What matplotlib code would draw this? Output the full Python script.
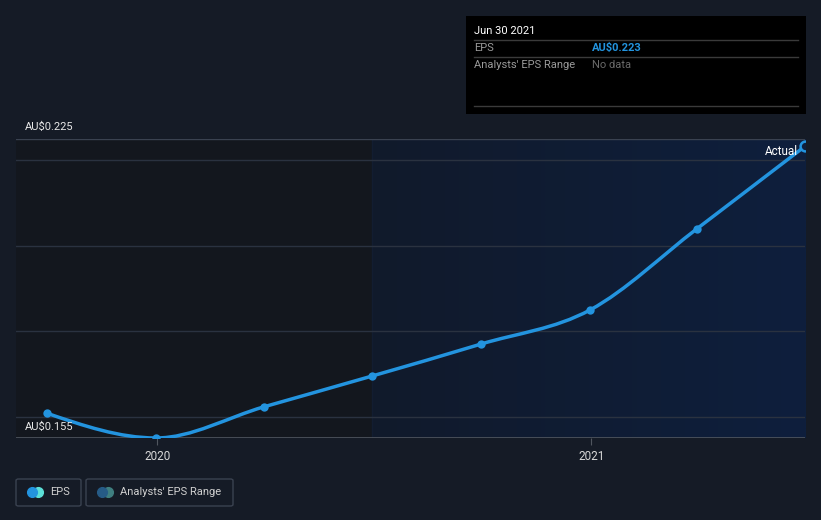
import numpy as np
import pandas as pd
import matplotlib
matplotlib.use("Agg")
import matplotlib.pyplot as plt
import matplotlib.dates as mdates
from matplotlib.path import Path
from matplotlib.patches import PathPatch, Rectangle, FancyBboxPatch
from matplotlib.colors import LinearSegmentedColormap

plt.rcParams['font.family'] = ['Roboto', 'DejaVu Sans']

# data
dates = pd.to_datetime(['2019-09-30', '2019-12-31', '2020-03-31', '2020-06-30',
                        '2020-09-30', '2020-12-31', '2021-03-31', '2021-06-30'])
eps = [0.1608, 0.1550, 0.1623, 0.1695, 0.1770, 0.1850, 0.2040, 0.2233]
y_min, y_max = 0.155, 0.225
grid_vals = [0.16, 0.18, 0.20, 0.22]
x_start, x_end = pd.Timestamp('2019-09-04'), pd.Timestamp('2021-06-30')
split_date = pd.Timestamp('2020-06-30')
year_ticks = pd.to_datetime(['2020-01-01', '2021-01-01'])
year_labels = ['2020', '2021']

BG = '#151b26'
LINE = '#2394df'


def monotone_path(x, y):
    # monotone cubic (like d3 curveMonotoneX) as bezier segments
    x = np.asarray(x, float)
    y = np.asarray(y, float)
    n = len(x)
    h = np.diff(x)
    s = np.diff(y) / h
    m = np.zeros(n)
    for i in range(1, n - 1):
        if s[i - 1] * s[i] <= 0:
            m[i] = 0
        else:
            p = (s[i - 1] * h[i] + s[i] * h[i - 1]) / (h[i - 1] + h[i])
            m[i] = np.sign(s[i - 1]) * min(abs(s[i - 1]), abs(s[i]), 0.5 * abs(p)) * 2
    m[0] = (3 * s[0] - m[1]) / 2 if n > 2 else s[0]
    m[-1] = (3 * s[-1] - m[-2]) / 2 if n > 2 else s[-1]
    verts = [(x[0], y[0])]
    codes = [Path.MOVETO]
    for i in range(n - 1):
        d = h[i] / 3
        verts += [(x[i] + d, y[i] + m[i] * d), (x[i + 1] - d, y[i + 1] - m[i + 1] * d), (x[i + 1], y[i + 1])]
        codes += [Path.CURVE4] * 3
    return Path(verts, codes)


fig = plt.figure(figsize=(8.21, 5.20), dpi=100, facecolor=BG)
ax = fig.add_axes([16 / 821, 82 / 520, 789 / 821, 299 / 520])
ax.set_facecolor('#13171e')
ax.set_xlim(x_start, x_end)
ax.set_ylim(y_min, y_max)

xn = mdates.date2num(dates)
x0, x1 = mdates.date2num(x_start), mdates.date2num(x_end)
xs = mdates.date2num(split_date)

# shaded past / recent regions
ax.axvspan(x0, xs, color='#13171e', zorder=0)
cmap = LinearSegmentedColormap.from_list('g', ['#111a2b', '#0e1f3d'])
ax.imshow(np.linspace(0, 1, 512).reshape(1, -1), cmap=cmap, aspect='auto',
          extent=[xs, x1, y_min, y_max], zorder=0.5, interpolation='bilinear')
ax.axvline(xs, color='#121d31', lw=1, zorder=0.6)

for g in grid_vals:
    ax.axhline(g, color='#2a3240', lw=1, zorder=1)
ax.axhline(y_max, color='#3a4250', lw=1, zorder=1)
ax.axhline(y_min, color='#50565f', lw=1.2, zorder=1)

patch = PathPatch(monotone_path(xn, eps), facecolor='none', edgecolor=LINE, lw=2.5,
                  zorder=3, capstyle='round')
ax.add_patch(patch)
ax.scatter(xn[:-1], eps[:-1], s=36, color=LINE, zorder=4, linewidths=0)
ax.scatter(xn[-1:], eps[-1:], s=50, facecolor='#0e1f3d', edgecolor=LINE, lw=1.8, zorder=4)

for sp in ax.spines.values():
    sp.set_visible(False)
ax.set_yticks([])
ax.set_xticks(year_ticks)
ax.set_xticklabels(year_labels, color='#d8d8d8', fontsize=8.5)
ax.tick_params(axis='x', length=5, color='#50565f', pad=4)

ax.text(9 / 789, 1.0 + 12 / 299, 'AU$0.225', transform=ax.transAxes,
        color='#e8e8e8', fontsize=8, va='center', ha='left')
ax.text(9 / 789, 11 / 299, 'AU$0.155', transform=ax.transAxes,
        color='#e8e8e8', fontsize=8, va='center', ha='left')
ax.text(x1 - 6, eps[-1] - 0.0013, 'Actual', color='#ffffff', fontsize=8.5, ha='right', va='center')

# tooltip box
W, H = 821, 520
def fx(px):
    return px / W
def fy(py):
    return 1 - py / H

fig.patches.append(Rectangle((fx(466), fy(114)), fx(806) - fx(466), fy(16) - fy(114),
                             transform=fig.transFigure, facecolor='#000000', edgecolor='none'))
for ly in [40, 57, 106]:
    fig.add_artist(plt.Line2D([fx(474), fx(798)], [fy(ly), fy(ly)], color='#3a3a3a', lw=1))
fig.text(fx(474), fy(31), 'Jun 30 2021', color='#ffffff', fontsize=8, va='center')
fig.text(fx(474), fy(48), 'EPS', color='#9a9a9a', fontsize=8, va='center')
fig.text(fx(592), fy(48), 'AU$0.223', color=LINE, fontsize=8, va='center', fontweight='bold')
fig.text(fx(474), fy(65), "Analysts' EPS Range", color='#9a9a9a', fontsize=8, va='center')
fig.text(fx(592), fy(65), 'No data', color='#6a6a6a', fontsize=8, va='center')

# legend
for (lx, lw_) in [(16, 65), (86, 147)]:
    fig.patches.append(FancyBboxPatch((fx(lx), fy(506)), fx(lw_), fy(479) - fy(506),
                                      boxstyle='round,pad=0,rounding_size=0.003',
                                      transform=fig.transFigure, facecolor='none',
                                      edgecolor='#3a4250', lw=1))
fig.add_artist(plt.Line2D([fx(38)], [fy(492)], marker='o', ms=7, color='#5ce0d8', lw=0))
fig.add_artist(plt.Line2D([fx(32)], [fy(492)], marker='o', ms=7, color='#2394df', lw=0))
fig.text(fx(50), fy(492), 'EPS', color='#d0d0d0', fontsize=8, va='center')
fig.add_artist(plt.Line2D([fx(108)], [fy(492)], marker='o', ms=7, color='#3f7f80', lw=0))
fig.add_artist(plt.Line2D([fx(102)], [fy(492)], marker='o', ms=7, color='#265b86', lw=0))
fig.text(fx(120), fy(492), "Analysts' EPS Range", color='#d0d0d0', fontsize=8, va='center')

fig.savefig('out.png', dpi=100, facecolor=BG)
